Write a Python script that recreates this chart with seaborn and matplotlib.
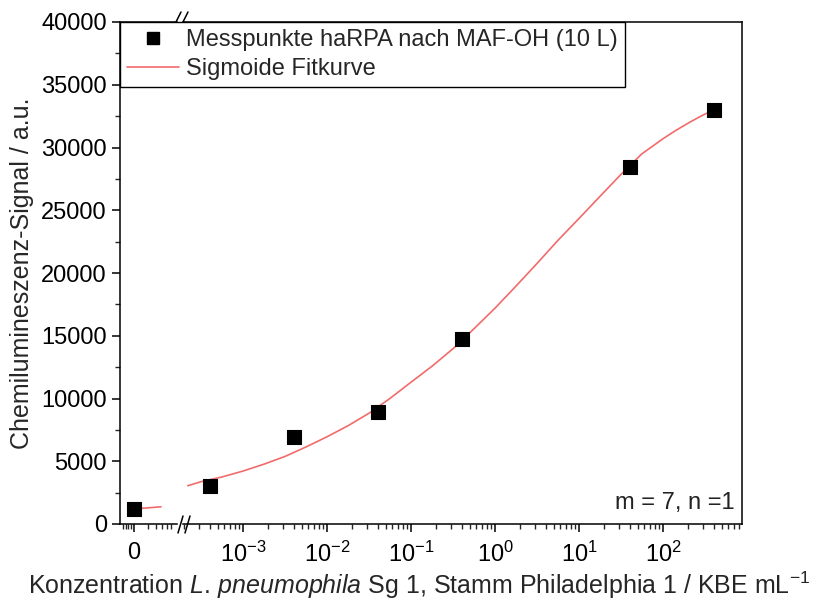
import numpy as np
import pandas as pd
import matplotlib
matplotlib.use('Agg')
import matplotlib.pyplot as plt
from matplotlib.lines import Line2D
from matplotlib.ticker import LogLocator, LogFormatterSciNotation, MultipleLocator, FixedLocator, NullFormatter
import seaborn as sns

sns.set_theme(style='ticks')
plt.rcParams['font.family'] = ['Liberation Sans', 'DejaVu Sans']
plt.rcParams['mathtext.fontset'] = 'custom'
plt.rcParams['mathtext.rm'] = 'Liberation Sans'
plt.rcParams['mathtext.it'] = 'Liberation Sans:italic'

# measured points (concentration in KBE/mL, signal in a.u.)
zero_conc = [0]
zero_signal = [1200]
conc = [4e-4, 4e-3, 4e-2, 4e-1, 40, 400]
signal = [3050, 6900, 8900, 14750, 28450, 33000]

# sigmoid fit curve
fit_zero_conc = [0, 1.93]
fit_zero_signal = [1200, 1370]
fit_conc = [2.2e-4, 3.2e-4, 5.6e-4, 1e-3, 1.8e-3, 3.2e-3, 5.6e-3, 1e-2, 1.8e-2, 3.2e-2,
            5.6e-2, 0.1, 0.18, 0.32, 0.56, 1, 1.8, 3.2, 5.6, 10, 18, 32, 56, 100, 141,
            200, 282, 400]
fit_signal = [3050, 3380, 3745, 4220, 4780, 5400, 6135, 6950, 7850, 8850,
              10000, 11300, 12600, 14000, 15550, 17200, 19000, 20800, 22600, 24350, 26150,
              27900, 29500, 30700, 31350, 31950, 32500, 33000]

W, H = 838, 607
def fx(px):
    return px / W
def fy(py):
    return 1 - py / H

fig = plt.figure(figsize=(8.38, 6.07), dpi=100)
bottom, top = fy(524), fy(22)
ax0 = fig.add_axes([fx(120), bottom, fx(177) - fx(120), top - bottom])
ax1 = fig.add_axes([fx(183), bottom, fx(742) - fx(183), top - bottom])

red = '#f26b6b'
df_pts = pd.DataFrame({'x': conc, 'y': signal})
df_zero = pd.DataFrame({'x': zero_conc, 'y': zero_signal})
df_fit = pd.DataFrame({'x': fit_conc, 'y': fit_signal})
df_fit0 = pd.DataFrame({'x': fit_zero_conc, 'y': fit_zero_signal})

# left segment (value 0)
sns.lineplot(data=df_fit0, x='x', y='y', ax=ax0, color=red, lw=1.2, zorder=2)
sns.scatterplot(data=df_zero, x='x', y='y', ax=ax0, marker='s', s=95, color='black',
                edgecolor='black', zorder=3)
ax0.set_xlim(-1, 3.07)
ax0.set_ylim(0, 40000)
ax0.xaxis.set_major_locator(FixedLocator([0]))
ax0.set_xticklabels(['0'])
ax0.xaxis.set_minor_locator(FixedLocator([-0.8, -0.6, -0.4, -0.2, 1.0, 1.6, 2.0, 2.35, 2.65]))
ax0.yaxis.set_major_locator(MultipleLocator(5000))
ax0.yaxis.set_minor_locator(MultipleLocator(2500))
ax0.spines['right'].set_visible(False)
ax0.set_xlabel('')
ax0.set_ylabel('Chemilumineszenz-Signal / a.u.', fontsize=18, labelpad=5)

# right segment, log scale
sns.lineplot(data=df_fit, x='x', y='y', ax=ax1, color=red, lw=1.2, zorder=2)
sns.scatterplot(data=df_pts, x='x', y='y', ax=ax1, marker='s', s=95, color='black',
                edgecolor='black', zorder=3)
ax1.set_xscale('log')
ax1.set_xlim(1.93e-4, 870)
ax1.set_ylim(0, 40000)
ax1.xaxis.set_major_locator(FixedLocator([1e-3, 1e-2, 1e-1, 1, 10, 100]))
ax1.xaxis.set_major_formatter(LogFormatterSciNotation())
ax1.xaxis.set_minor_locator(LogLocator(base=10, subs=np.arange(2, 10), numticks=20))
ax1.xaxis.set_minor_formatter(NullFormatter())
ax1.spines['left'].set_visible(False)
ax1.tick_params(axis='y', left=False, labelleft=False)
ax1.set_ylabel('')
ax1.set_xlabel('')

for ax in (ax0, ax1):
    for s in ax.spines.values():
        s.set_color('black')
        s.set_linewidth(1.1)
    ax.tick_params(which='major', direction='out', length=6, width=1.1, labelsize=17,
                   colors='black', top=False, right=False)
    ax.tick_params(which='minor', direction='out', length=3.5, width=1.0, top=False, right=False)
    ax.tick_params(axis='x', pad=7)
    ax.grid(False)

ax1.text(0.987, 0.042, 'm = 7, n =1', transform=ax1.transAxes, ha='right', va='center',
         fontsize=17, color='#222222')

fig.text(0.5, fy(585), r'Konzentration $\mathit{L.}\,\mathit{pneumophila}$ Sg 1, Stamm Philadelphia 1 / KBE mL$^{-1}$',
         ha='center', va='center', fontsize=18)

# legend over both segments
handles = [Line2D([], [], ls='none', marker='s', ms=9, color='black'),
           Line2D([], [], color=red, lw=1.2)]
labels = ['Messpunkte haRPA nach MAF-OH (10 L)', 'Sigmoide Fitkurve']
leg = fig.legend(handles, labels, loc='upper left', bbox_to_anchor=(fx(120), top),
                 borderaxespad=0, fancybox=False, edgecolor='black', fontsize=17,
                 handlelength=2.2, handletextpad=0.3, borderpad=0.3, labelspacing=0.3,
                 framealpha=1)
leg.get_frame().set_linewidth(1.0)

# axis break marks
for x0 in (178, 185):
    fig.add_artist(Line2D([fx(x0), fx(x0 + 5)], [fy(533), fy(516)], color='black', lw=1.1))
    fig.add_artist(Line2D([fx(x0 - 2), fx(x0 + 3)], [fy(22), fy(12)], color='black', lw=1.1))

fig.savefig('out.png', dpi=100)
